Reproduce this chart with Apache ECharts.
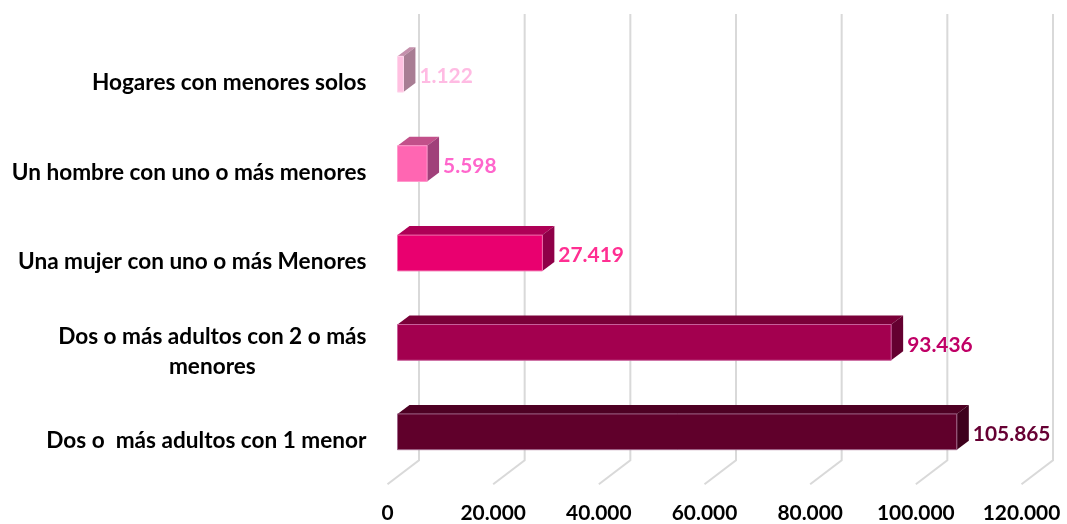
<!DOCTYPE html>
<html>
<head>
<meta charset="utf-8">
<title>Hogares con menores</title>
<script src="https://cdn.jsdelivr.net/npm/echarts@6/dist/echarts.min.js"></script>
<style>
    html,body{margin:0;padding:0;background:#fff;}
    #chart{width:1067px;height:524px;}
</style>
</head>
<body>
<div id="chart"></div>
<script>
// abajo hacia arriba, igual que el eje
var categorias = [
    'Dos o  más adultos con 1 menor',
    'Dos o más adultos con 2 o más\nmenores',
    'Una mujer con uno o más Menores',
    'Un hombre con uno o más menores',
    'Hogares con menores solos'
];
var valores = [105865, 93436, 27419, 5598, 1122];
var ticks = [0, 20000, 40000, 60000, 80000, 100000, 120000];

var colorFrente = ['#60002B', '#A3004F', '#E9006F', '#FF66B2', '#FFC0E0'];
var colorArriba = ['#4E0023', '#7A0038', '#AE0056', '#C2508A', '#C48FAB'];
var colorLado = ['#3E001C', '#640030', '#8F0048', '#A0407A', '#A87D93'];
var colorBorde = ['#A0668A', '#C8609A', '#F070AE', '#FF99CC', '#FFD6EC'];
var colorTexto = ['#660033', '#C00066', '#FF2F92', '#FF66CC', '#FFBBE3'];

var fuente = 'Lato, "Noto Sans", sans-serif';

function miles(v){
    return String(v).replace(/\B(?=(\d{3})+$)/g, '.');
}

var chart = echarts.init(document.getElementById('chart'));

var option = {
    backgroundColor: '#fff',
    animation: false,
    grid: {left: 387.5, top: 38.5, width: 634, height: 447},
    xAxis: {
        type: 'value',
        min: 0,
        max: 120000,
        interval: 20000,
        axisLine: {show: false},
        axisTick: {show: false},
        splitLine: {show: false},
        axisLabel: {
            color: '#000',
            fontFamily: fuente,
            fontWeight: 'bold',
            fontSize: 20.9,
            margin: 17,
            formatter: function(v){ return miles(v); }
        }
    },
    yAxis: {
        type: 'category',
        data: categorias,
        axisLine: {show: false},
        axisTick: {show: false},
        splitLine: {show: false},
        axisLabel: {
            color: '#000',
            fontFamily: fuente,
            fontWeight: 'bold',
            fontSize: 22.6,
            margin: 21,
            lineHeight: 30,
            align: 'right',
            formatter: function(v){
                var partes = v.split('\n');
                if(partes.length == 1) return v;
                return partes[0] + '\n{centro|' + partes[1] + '}';
            },
            rich: {
                centro: {
                    width: 304,
                    align: 'center',
                    color: '#000',
                    fontFamily: fuente,
                    fontWeight: 'bold',
                    fontSize: 22.6,
                    lineHeight: 30
                }
            }
        }
    },
    series: [
        {
            // paredes y piso
            type: 'custom',
            clip: false,
            silent: true,
            z: 1,
            data: ticks.map(function(t){ return [t, 0]; }),
            encode: {x: 0, y: 1},
            renderItem: function(params, api){
                var x = api.coord([api.value(0), 0])[0];
                var abajo = params.coordSys.y + params.coordSys.height - 1.2;
                return {
                    type: 'polyline',
                    shape: {points: [[x, abajo], [x + 31.5, abajo - 24], [x + 31.5, 14]]},
                    style: {fill: null, stroke: '#D9D9D9', lineWidth: 2}
                };
            }
        },
        {
            type: 'custom',
            clip: false,
            silent: true,
            z: 2,
            data: valores.map(function(v, i){ return [v, i]; }),
            encode: {x: 0, y: 1},
            renderItem: function(params, api){
                var i = params.dataIndex;
                var p0 = api.coord([0, api.value(1)]);
                var p1 = api.coord([api.value(0), api.value(1)]);
                var alto = api.size([0, 1])[1] * 0.4;
                var x0 = p0[0] + 10, x1 = p1[0] + 10;
                var y0 = p0[1] - 9 - alto / 2, y1 = y0 + alto;
                var dx = 12, dy = 9;
                return {
                    type: 'group',
                    children: [
                        {
                            type: 'polygon',
                            shape: {points: [[x0, y0], [x0 + dx, y0 - dy], [x1 + dx, y0 - dy], [x1, y0]]},
                            style: {fill: colorArriba[i]}
                        },
                        {
                            type: 'polygon',
                            shape: {points: [[x1, y0], [x1 + dx, y0 - dy], [x1 + dx, y1 - dy], [x1, y1]]},
                            style: {fill: colorLado[i]}
                        },
                        {
                            type: 'rect',
                            shape: {x: x0, y: y0, width: x1 - x0, height: alto},
                            style: {fill: colorFrente[i], stroke: colorBorde[i], lineWidth: 1}
                        },
                        {
                            type: 'text',
                            style: {
                                x: x1 + dx + 4,
                                y: y0 + alto / 2 + 2.5,
                                text: miles(api.value(0)),
                                fill: colorTexto[i],
                                font: 'bold 20.9px ' + fuente,
                                align: 'left',
                                verticalAlign: 'middle'
                            }
                        }
                    ]
                };
            }
        }
    ]
};

chart.setOption(option);
window.addEventListener('resize', function(){
    chart.resize();
});
</script>
</body>
</html>
